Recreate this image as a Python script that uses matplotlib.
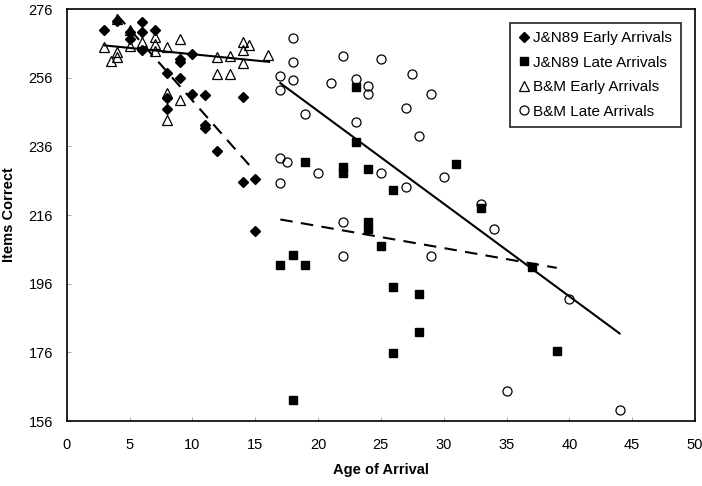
import numpy as np
import matplotlib
matplotlib.use("Agg")
import matplotlib.pyplot as plt
from matplotlib.lines import Line2D

plt.rcParams['font.family'] = ['Liberation Sans', 'DejaVu Sans']

# J&N89 early arrivals (diamonds)
jn_early_age = [3, 4, 5, 5, 6, 6, 6, 7, 8, 8, 8, 9, 9, 9, 10, 10, 11, 11, 11, 12, 14, 14, 15, 15]
jn_early_score = [270.0, 272.4, 269.2, 267.3, 272.1, 269.2, 264.1, 270.0, 257.5, 250.0, 246.9,
                  261.5, 260.5, 255.9, 262.9, 251.2, 251.0, 242.3, 241.2, 234.5, 250.5, 225.5,
                  226.4, 211.3]

# J&N89 late arrivals (squares)
jn_late_age = [17, 18, 18, 19, 19, 22, 22, 23, 23, 24, 24, 24, 25, 26, 26, 26, 28, 28, 31, 33, 37, 39]
jn_late_score = [201.3, 204.4, 162.0, 231.3, 201.3, 230.0, 228.1, 253.3, 237.4, 229.3, 214.0, 212.0,
                 207.0, 223.2, 195.0, 175.7, 193.0, 182.0, 231.0, 218.0, 200.8, 176.4]

# B&M early arrivals (triangles)
bm_early_age = [3, 3.5, 4, 4, 4, 5, 5, 6, 7, 7, 7, 8, 8, 8, 9, 9, 12, 13, 12, 13, 14, 14, 14, 14.5, 16]
bm_early_score = [264.8, 261.0, 263.4, 261.9, 273.1, 269.8, 265.3, 266.3, 267.8, 265.8, 263.8,
                  264.8, 251.5, 243.6, 267.3, 249.5, 261.9, 262.3, 257.1, 257.1, 260.2, 266.5,
                  264.2, 265.6, 262.5]

# B&M late arrivals (circles)
bm_late_age = [18, 18, 18, 17, 17, 19, 22, 21, 23, 24, 24, 25, 27.5, 29, 27, 23, 28, 17, 17.5,
               20, 25, 27, 30, 17, 22, 22, 29, 33, 34, 40, 35, 44]
bm_late_score = [267.6, 260.5, 255.4, 256.6, 252.3, 245.5, 262.4, 254.4, 255.6, 253.5, 251.3,
                 261.3, 257.2, 251.2, 247.1, 243.2, 239.0, 232.5, 231.3, 228.3, 228.1, 224.2,
                 227.1, 225.4, 214.1, 204.2, 204.0, 219.3, 211.8, 191.5, 164.7, 159.3]

# fitted regression lines (end points)
fit_jn_early = ([4, 14.8], [274.3, 229.4])
fit_jn_late = ([17, 39], [214.7, 200.6])
fit_bm_early = ([3, 16.1], [265.4, 260.6])
fit_bm_late = ([17, 44], [254.4, 181.5])

labels = ['J&N89 Early Arrivals', 'J&N89 Late Arrivals', 'B&M Early Arrivals', 'B&M Late Arrivals']

fig = plt.figure(figsize=(7.02, 4.86), dpi=100)
ax = fig.add_axes([66.7 / 702, 1 - 421 / 486, (695 - 66.7) / 702, (421 - 9) / 486])

mew = 0.9
ax.plot(jn_early_age, jn_early_score, 'D', color='black', ms=5.5, ls='none', zorder=3)
ax.plot(jn_late_age, jn_late_score, 's', color='black', ms=5.3, ls='none', zorder=3)
ax.plot(bm_early_age, bm_early_score, '^', mfc='none', mec='black', mew=mew, ms=7, ls='none', zorder=4)
ax.plot(bm_late_age, bm_late_score, 'o', mfc='none', mec='black', mew=mew, ms=6.5, ls='none', zorder=4)

dash = (0, (6, 4))
ax.plot(*fit_jn_early, color='black', lw=1.5, ls=dash, zorder=2)
ax.plot(*fit_jn_late, color='black', lw=1.5, ls=dash, zorder=2)
ax.plot(*fit_bm_early, color='black', lw=1.5, zorder=2)
ax.plot(*fit_bm_late, color='black', lw=1.5, zorder=2)

ax.set_xlim(0, 50)
ax.set_ylim(156, 276)
ax.set_xticks(np.arange(0, 51, 5))
ax.set_yticks(np.arange(156, 277, 20))
ax.tick_params(direction='in', length=3, width=0.6, labelsize=10.5, color='#999999')
ax.tick_params(axis='x', pad=12)
ax.tick_params(axis='y', pad=10)
for sp in ax.spines.values():
    sp.set_linewidth(1.2)

ax.set_xlabel('Age of Arrival', fontsize=10.5, fontweight='bold')
ax.set_ylabel('Items Correct', fontsize=10.5, fontweight='bold')
ax.xaxis.set_label_coords(0.5, -0.102)
ax.yaxis.set_label_coords(-0.081, 0.5)

handles = [
    Line2D([], [], marker='D', color='black', ls='none', ms=5.5),
    Line2D([], [], marker='s', color='black', ls='none', ms=5.3),
    Line2D([], [], marker='^', mfc='none', mec='black', mew=mew, ls='none', ms=7),
    Line2D([], [], marker='o', mfc='none', mec='black', mew=mew, ls='none', ms=6.5),
]
leg = ax.legend(handles, labels, loc='upper right', bbox_to_anchor=(0.977, 0.966),
                borderaxespad=0, fontsize=11, frameon=True, fancybox=False,
                handlelength=0.8, handletextpad=0.2, labelspacing=0.68,
                borderpad=0.55)
leg.get_frame().set_edgecolor('black')
leg.get_frame().set_linewidth(1.3)

fig.savefig('out.png', dpi=100)
